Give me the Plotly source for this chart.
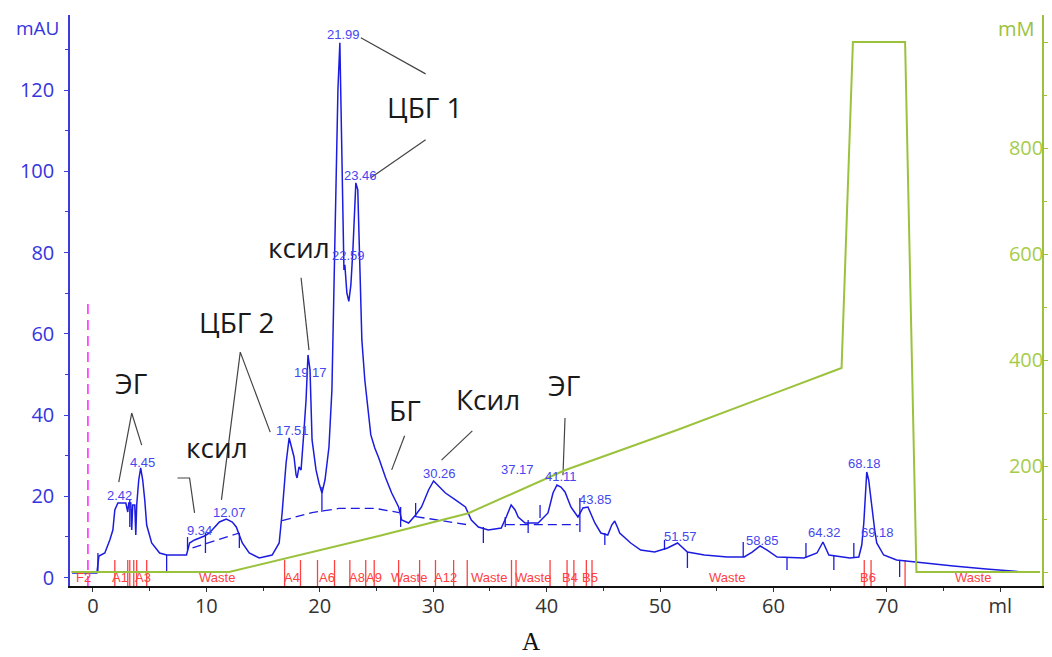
import plotly.graph_objects as go

# ---------------- data ----------------
# UV trace (elution volume, ml  /  absorbance, mAU)
vol = [-1.84, 0.35, 0.53, 1.05, 1.49, 1.76, 1.93, 2.20, 2.90, 3.07, 3.16, 3.34, 3.42, 3.51, 3.69, 3.78,
       3.86, 4.04, 4.21, 4.39, 4.57, 4.74, 5.18, 5.88, 6.50, 8.25, 8.52, 8.96, 9.40, 9.83, 10.27, 10.71,
       11.15, 11.76, 12.29, 12.64, 13.17, 13.78, 14.66, 15.80, 16.42, 16.68, 17.03, 17.30, 17.56, 17.73,
       17.91, 18.00, 18.17, 18.35, 18.61, 18.79, 18.96, 19.14, 19.32, 19.67, 19.93, 20.19, 20.46, 20.81,
       21.07, 21.33, 21.60, 21.77, 21.95, 22.13, 22.21, 22.30, 22.39, 22.56, 22.74, 22.92, 23.18, 23.35,
       23.53, 23.71, 23.97, 24.23, 24.50, 24.85, 25.20, 25.81, 26.34, 26.95, 27.22, 27.83, 28.45, 28.97,
       29.59, 30.03, 30.55, 31.08, 31.96, 32.84, 33.36, 33.98, 34.86, 36.00, 36.44, 36.87, 37.22, 37.49,
       38.10, 39.25, 40.12, 40.56, 40.91, 41.26, 41.62, 42.14, 42.76, 43.20, 43.64, 44.25, 44.78, 45.39,
       45.74, 46.00, 46.27, 46.44, 47.41, 48.29, 49.52, 50.66, 51.54, 52.41, 53.91, 55.93, 57.42, 58.12,
       58.82, 59.44, 60.32, 62.69, 63.83, 64.36, 64.88, 66.73, 67.52, 67.78, 67.96, 68.22, 68.39, 68.66,
       68.92, 69.10, 69.71, 70.85, 73.22, 75.86, 78.75, 82.00]
mau = [1.11, 1.11, 5.30, 6.03, 9.24, 11.70, 16.63, 18.35, 18.35, 16.13, 18.35, 18.35, 11.70, 17.86, 17.86, 10.47,
       17.86, 24.01, 26.97, 24.01, 19.09, 12.93, 8.50, 6.03, 5.54, 5.54, 8.50, 9.24, 9.73, 10.22, 10.96, 12.19,
       13.67, 14.41, 13.67, 12.44, 8.50, 6.03, 4.80, 5.54, 8.50, 15.89, 28.20, 34.36, 31.40, 29.68,
       25.25, 24.51, 27.22, 26.48, 36.33, 43.72, 54.80, 51.11, 33.87, 26.48, 23.28, 20.81, 24.01, 32.14,
       46.18, 80.66, 120.07, 131.65, 105.29, 75.74, 76.97, 72.04, 70.00, 68.00, 72.00, 80.66, 97.16, 95.44,
       73.27, 58.50, 48.64, 41.26, 35.10, 31.90, 29.43, 24.51, 20.81, 17.36, 14.16, 13.42, 15.39, 17.36,
       21.55, 23.77, 22.29, 20.81, 19.09, 17.36, 14.16, 12.44, 11.70, 12.19, 14.90, 17.86, 16.63, 14.90,
       13.42, 13.42, 15.89, 20.81, 22.78, 22.29, 21.06, 17.36, 14.90, 17.12, 17.36, 13.42, 10.96, 10.47,
       12.93, 13.92, 12.19, 10.96, 8.50, 6.77, 6.28, 7.27, 8.50, 6.28, 5.54, 5.05, 5.05, 6.28,
       7.76, 6.77, 5.05, 4.80, 6.03, 8.74, 5.54, 4.80, 5.05, 8.00, 13.42, 25.98, 24.01, 17.36,
       11.70, 8.50, 5.54, 4.31, 3.57, 2.83, 2.09, 1.35]

# Salt gradient (ml / mM)
grad_vol = [-1.9, 12.0, 25.2, 33.1, 41.6, 51.5, 66.0, 67.0, 71.6, 72.6, 83.5]
grad_mm = [0, 0, 68, 111, 192, 268, 385, 1000, 1000, 0, 0]

# Integration baselines (dashed)
base_segments = [
    ([8.78, 12.91], [7.27, 10.96]),
    ([16.68, 19.32, 21.68, 24.93, 27.0], [14.0, 16.0, 17.0, 17.0, 16.0]),
    ([28.45, 33.0], [15.0, 13.0]),
    ([36.4, 42.8], [13.0, 13.0]),
]

# Peak-limit markers (ml, top mAU, bottom mAU)
mark_x = [0.44, 3.25, 6.50, 8.34, 9.92, 12.91, 20.19, 27.13, 28.45, 34.42, 36.35, 38.37, 39.42, 42.93,
          45.13, 50.39, 52.41, 57.33, 61.19, 62.86, 65.32, 67.08, 71.12]
mark_top = [6.03, 19.09, 5.54, 9.98, 10.96, 10.96, 22.29, 17.36, 18.35, 12.44, 14.90, 14.16, 17.86, 19.58,
            10.96, 9.24, 6.28, 8.74, 5.05, 8.50, 5.54, 8.50, 4.31]
mark_bot = [1.35, 12.44, 1.35, 6.77, 6.03, 7.27, 16.13, 12.44, 14.90, 8.50, 12.44, 10.96, 14.65, 11.21,
            8.00, 6.77, 2.34, 5.05, 1.85, 4.80, 1.85, 4.80, 0.12]

# Peak retention labels
peak_lbl = ["2.42", "4.45", "9.34", "12.07", "17.51", "19.17", "21.99", "22.59", "23.46", "30.26",
            "37.17", "41.11", "43.85", "51.57", "58.85", "64.32", "68.18", "69.18"]
peak_x = [2.37, 4.39, 9.39, 12.03, 17.56, 19.14, 22.12, 22.56, 23.62, 30.55,
          37.40, 41.26, 44.34, 51.80, 59.00, 64.53, 68.04, 69.18]
peak_y = [20.3, 28.2, 11.5, 16.1, 36.1, 50.6, 133.6, 79.2, 98.9, 25.7,
          26.5, 24.8, 19.3, 10.2, 9.2, 11.0, 28.0, 11.0]

# Fractions
frac_lines = [1.93, 3.07, 3.25, 3.6, 3.86, 4.74, 16.9, 18.3, 19.8, 21.3, 22.65, 24.05, 24.8, 26.95,
              28.8, 30.2, 31.8, 33.0, 36.9, 37.3, 40.3, 41.8, 42.4, 43.5, 44.0, 68.0, 68.6, 71.6]
frac_lbl = ["F2", "A1", "A3", "Waste", "A4", "A6", "A8", "A9", "Waste", "A12", "Waste", "Waste",
            "B4", "B5", "Waste", "B6", "Waste"]
frac_x = [-0.8, 2.37, 4.39, 10.9, 17.56, 20.6, 23.3, 24.8, 27.9, 31.1, 34.9, 38.8,
          42.1, 43.8, 55.9, 68.3, 77.6]

# Component annotations
comp_lbl = ["ЭГ", "ксил", "ЦБГ 2", "ксил", "ЦБГ 1", "БГ", "Ксил", "ЭГ"]
comp_x = [3.32, 10.97, 12.73, 18.17, 29.24, 27.48, 34.86, 41.53]
comp_y = [47.9, 32.1, 62.9, 81.4, 115.9, 41.3, 44.0, 47.4]

# Leader lines (ml, mAU)
leaders = [
    ([2.28, 3.42, 4.30], [23.5, 40.5, 32.6]),
    ([7.46, 8.52, 8.96], [24.5, 24.5, 15.9]),
    ([11.33, 12.99, 15.63], [19.1, 55.5, 35.8]),
    ([18.35, 19.05], [73.8, 56.0]),
    ([23.62, 29.33], [132.9, 124.0]),
    ([29.33, 24.50], [107.8, 98.4]),
    ([27.48, 26.34], [34.9, 26.5]),
    ([33.45, 30.73], [36.1, 28.9]),
    ([41.62, 41.44], [39.3, 25.2]),
]

inject_x = -0.44
x_ticks = [0, 10, 20, 30, 40, 50, 60, 70, 80]
x_ticktext = ["0", "10", "20", "30", "40", "50", "60", "70", "ml"]
y_ticks = [0, 20, 40, 60, 80, 100, 120]
y2_ticks = [0, 200, 400, 600, 800, 1000]
y2_ticktext = ["", "200", "400", "600", "800", ""]

Y_MIN, Y_MAX = -2.09, 138.5
Y2_MIN, Y2_MAX = -26.4, 1051
X_MIN, X_MAX = -2.02, 83.67

BLUE = "#1c1ce0"
LBLUE = "#4646ee"
GREEN = "#9bc23c"
RED = "#ff4040"

fig = go.Figure()

# fraction lines
fx, fy = [], []
for v in frac_lines:
    fx += [v, v, None]
    fy += [Y_MIN, 4.3, None]
fig.add_trace(go.Scatter(x=fx, y=fy, mode="lines", line=dict(color=RED, width=1.3),
                         hoverinfo="skip", showlegend=False))

# gradient
fig.add_trace(go.Scatter(x=grad_vol, y=grad_mm, yaxis="y2", mode="lines",
                         line=dict(color=GREEN, width=2), showlegend=False))

# injection mark
fig.add_trace(go.Scatter(x=[inject_x, inject_x], y=[Y_MIN, 67.5], mode="lines",
                         line=dict(color="#ff22ff", width=1.5, dash="10px,6px"), showlegend=False))

# baselines
for bx, by in base_segments:
    fig.add_trace(go.Scatter(x=bx, y=by, mode="lines",
                             line=dict(color=BLUE, width=1.3, dash="9px,5px"), showlegend=False))

# markers
mx, my = [], []
for a, t, b in zip(mark_x, mark_top, mark_bot):
    mx += [a, a, None]
    my += [b, t, None]
fig.add_trace(go.Scatter(x=mx, y=my, mode="lines", line=dict(color=BLUE, width=1.3), showlegend=False))

# UV trace
fig.add_trace(go.Scatter(x=vol, y=mau, mode="lines", line=dict(color=BLUE, width=1.5), showlegend=False))

# leader lines
for lx, ly in leaders:
    fig.add_trace(go.Scatter(x=lx, y=ly, mode="lines", line=dict(color="#444444", width=1.2),
                             showlegend=False))

ann = []
for t, x, y in zip(peak_lbl, peak_x, peak_y):
    ann.append(dict(x=x, y=y, text=t, showarrow=False, xanchor="center", yanchor="middle",
                    font=dict(family="Liberation Sans, Arial", size=13, color=LBLUE)))
for t, x in zip(frac_lbl, frac_x):
    ann.append(dict(x=x, y=-0.1, text=t, showarrow=False, xanchor="center", yanchor="middle",
                    font=dict(family="Liberation Sans, Arial", size=13, color=RED)))
for t, x, y in zip(comp_lbl, comp_x, comp_y):
    ann.append(dict(x=x, y=y, text=t, showarrow=False, xanchor="center", yanchor="middle",
                    font=dict(family="Open Sans", size=28, color="#1a1a1a")))
ann.append(dict(xref="paper", yref="paper", x=0, y=1.0, text="mAU", showarrow=False,
                xanchor="right", yanchor="middle", xshift=-9, yshift=-13,
                font=dict(family="Open Sans", size=19, color="#3535dd")))
ann.append(dict(xref="paper", yref="paper", x=1.0, y=1.0, text="mM", showarrow=False,
                xanchor="right", yanchor="middle", xshift=-5, yshift=-13,
                font=dict(family="Open Sans", size=20, color=GREEN)))
ann.append(dict(xref="paper", yref="paper", x=0.474, y=0, text="А", showarrow=False,
                xanchor="center", yanchor="bottom", yshift=-71,
                font=dict(family="Liberation Serif", size=25, color="#111111")))

fig.update_layout(
    width=1052, height=657,
    margin=dict(l=70, r=6, t=15, b=71),
    paper_bgcolor="white", plot_bgcolor="white",
    annotations=ann,
    xaxis=dict(range=[X_MIN, X_MAX], tickvals=x_ticks, ticktext=x_ticktext, showgrid=False,
               zeroline=False, showline=True, linecolor="#111111", linewidth=1.5,
               ticks="outside", ticklen=4, tickcolor="#333333", ticklabelstandoff=-3,
               minor=dict(dtick=5, tick0=0, ticks="outside", ticklen=3, tickcolor="#333333"),
               tickfont=dict(family="Open Sans", size=20, color="#333333")),
    yaxis=dict(range=[Y_MIN, Y_MAX], tickvals=y_ticks, showgrid=False, zeroline=False,
               showline=True, linecolor="#3c3cd8", linewidth=1.5,
               ticks="outside", ticklen=4, tickcolor="#3c3cd8", ticklabelstandoff=6,
               minor=dict(dtick=10, tick0=0, ticks="outside", ticklen=3, tickcolor="#3c3cd8"),
               tickfont=dict(family="Open Sans", size=20, color="#3535dd")),
    yaxis2=dict(range=[Y2_MIN, Y2_MAX], overlaying="y", side="right", tickvals=y2_ticks,
                ticktext=y2_ticktext, showgrid=False, zeroline=False, showline=True,
                linecolor=GREEN, linewidth=1.5, ticks="outside", ticklen=4, tickcolor=GREEN,
                ticklabelposition="inside",
                minor=dict(dtick=100, tick0=0, ticks="outside", ticklen=3, tickcolor=GREEN),
                tickfont=dict(family="Open Sans", size=20, color="#a6cc4a")),
)

fig.write_html("out.html")
